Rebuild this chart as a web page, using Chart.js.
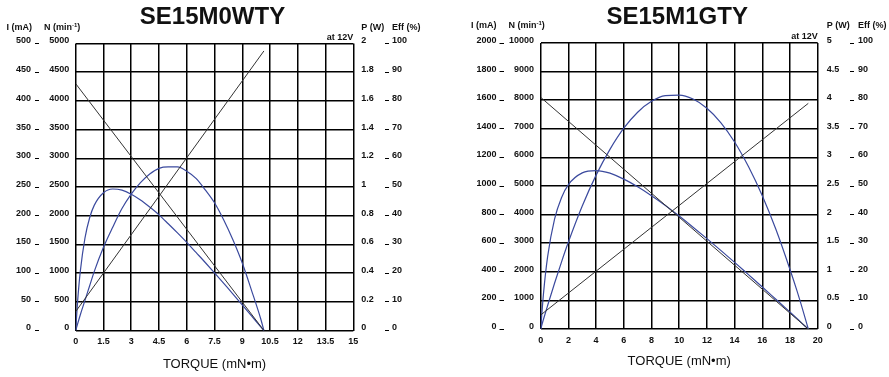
<!DOCTYPE html>
<html>
<head>
<meta charset="utf-8">
<script src="https://cdn.jsdelivr.net/npm/chart.js@4/dist/chart.umd.min.js"></script>
<style>
  body { margin: 0; background: #fff; }
  canvas { position: absolute; top: 0; }
  #chartA { left: 0; }
  #chartB { left: 445px; }
</style>
</head>
<body>
<canvas id="chartA" width="445" height="377"></canvas>
<canvas id="chartB" width="444" height="377"></canvas>
<script>
// ---- SE15M0WTY ----
const torqueA = [0, 0.1, 0.25, 0.5, 0.75, 1, 1.5, 2, 2.5, 3, 3.5, 4, 4.5, 5, 5.5, 6, 6.5, 7, 7.5, 8, 8.5, 9, 9.5, 10, 10.17];
const effA = [0, 9.9, 20.7, 32.2, 39.2, 43.6, 48.0, 49.3, 48.9, 47.5, 45.5, 43.0, 40.3, 37.2, 34.0, 30.7, 27.2, 23.7, 20.1, 16.4, 12.7, 8.9, 5.1, 1.3, 0];
const powerA = [0, 0.045, 0.11, 0.21, 0.31, 0.41, 0.58, 0.72, 0.85, 0.95, 1.03, 1.09, 1.13, 1.14, 1.14, 1.11, 1.06, 0.98, 0.89, 0.77, 0.63, 0.47, 0.28, 0.08, 0];
const lineTorqueA = [0, 10.17];
const speedA = [4300, 0];
const currentA = [33, 487];
const xTicksA = [0, 1.5, 3, 4.5, 6, 7.5, 9, 10.5, 12, 13.5, 15];
const iTicksA = [0, 50, 100, 150, 200, 250, 300, 350, 400, 450, 500];
const nTicksA = [0, 500, 1000, 1500, 2000, 2500, 3000, 3500, 4000, 4500, 5000];
const pTicksA = [0, 0.2, 0.4, 0.6, 0.8, 1, 1.2, 1.4, 1.6, 1.8, 2];

// ---- SE15M1GTY ----
const torqueB = [0, 0.2, 0.5, 1, 1.5, 2, 3, 4, 5, 6, 7, 8, 9, 10, 11, 12, 13, 14, 15, 16, 17, 18, 18.5, 19, 19.32];
const effB = [0, 12.3, 25.3, 38.4, 45.9, 50.5, 54.6, 55.4, 54.5, 52.4, 49.7, 46.6, 43.2, 39.5, 35.6, 31.6, 27.5, 23.3, 19.0, 14.7, 10.3, 5.9, 3.7, 1.4, 0];
const powerB = [0, 0.17, 0.41, 0.80, 1.17, 1.52, 2.15, 2.69, 3.14, 3.51, 3.79, 3.98, 4.08, 4.09, 4.02, 3.86, 3.61, 3.27, 2.84, 2.33, 1.73, 1.04, 0.67, 0.27, 0];
const lineTorqueB = [0, 19.32];
const speedB = [8100, 0];
const currentB = [98, 1578];
const xTicksB = [0, 2, 4, 6, 8, 10, 12, 14, 16, 18, 20];
const iTicksB = [0, 200, 400, 600, 800, 1000, 1200, 1400, 1600, 1800, 2000];
const nTicksB = [0, 1000, 2000, 3000, 4000, 5000, 6000, 7000, 8000, 9000, 10000];
const pTicksB = [0, 0.5, 1, 1.5, 2, 2.5, 3, 3.5, 4, 4.5, 5];

const effTicks = [0, 10, 20, 30, 40, 50, 60, 70, 80, 90, 100];

const BLUE = '#3b4a9e';
const LINE = '#333';
const FONT = '"Liberation Sans", Arial, sans-serif';

const pts = (xs, ys) => xs.map((x, i) => ({ x: x, y: ys[i] }));

function fixedTicks(list) {
  return s => { s.ticks = list.map(v => ({ value: v })); };
}

function yAxis(list, opts) {
  return {
    type: 'linear',
    position: opts.position,
    weight: opts.weight,
    min: list[0],
    max: list[list.length - 1],
    afterBuildTicks: fixedTicks(list),
    afterFit: s => { s.width = opts.width; },
    border: { display: false },
    grid: {
      drawOnChartArea: !!opts.grid,
      drawTicks: !!opts.tick,
      tickLength: opts.tick || 0,
      color: '#000',
      lineWidth: opts.grid ? 1.5 : 1
    },
    ticks: {
      padding: opts.pad,
      labelOffset: -2.5,
      color: '#111',
      font: { family: FONT, size: 9, weight: 'bold' },
      callback: v => String(v)
    }
  };
}

function labelsPlugin(p) {
  return {
    id: 'unitLabels',
    afterDraw(chart) {
      const c = chart.ctx, a = chart.chartArea, s = chart.scales;
      const mid = (a.left + a.right) / 2;
      c.save();
      c.fillStyle = '#111';
      c.textBaseline = 'middle';
      c.textAlign = 'center';
      c.font = 'bold 24px ' + FONT;
      c.fillText(p.title, mid - 2, p.headY);

      c.font = 'bold 9px ' + FONT;
      c.textAlign = 'right';
      c.fillText('I (mA)', s.i.right - 7, p.unitY);
      c.textAlign = 'left';
      let x = s.n.left + 5;
      c.fillText('N (min', x, p.unitY);
      x += c.measureText('N (min').width;
      c.font = 'bold 6px ' + FONT;
      c.fillText('-1', x, p.unitY - 2.5);
      x += c.measureText('-1').width;
      c.font = 'bold 9px ' + FONT;
      c.fillText(')', x, p.unitY);
      c.fillText('P (W)', s.p.left + p.pLab, p.unitY);
      c.fillText('Eff (%)', s.e.left + p.eLab, p.unitY);
      c.textAlign = 'right';
      c.fillText('at 12V', a.right, p.atY);

      c.font = '13px ' + FONT;
      c.textAlign = 'center';
      c.fillText('TORQUE (mN\u2022m)', mid, p.torqueY);
      c.restore();
    }
  };
}

function makeChart(id, d) {
  new Chart(document.getElementById(id), {
    type: 'line',
    data: {
      datasets: [
        { data: pts(d.lineTorque, d.speed), yAxisID: 'n', borderColor: LINE, borderWidth: 1 },
        { data: pts(d.lineTorque, d.current), yAxisID: 'i', borderColor: LINE, borderWidth: 1 },
        { data: pts(d.torque, d.eff), yAxisID: 'e', borderColor: BLUE, borderWidth: 1.2, cubicInterpolationMode: 'monotone' },
        { data: pts(d.torque, d.power), yAxisID: 'p', borderColor: BLUE, borderWidth: 1.2, cubicInterpolationMode: 'monotone' }
      ]
    },
    options: {
      responsive: false,
      animation: false,
      events: [],
      elements: { point: { radius: 0 } },
      layout: { padding: { left: 0, top: d.top, right: d.padRight, bottom: 0 } },
      plugins: { legend: { display: false }, tooltip: { enabled: false } },
      scales: {
        x: {
          type: 'linear',
          min: d.xTicks[0],
          max: d.xTicks[d.xTicks.length - 1],
          afterBuildTicks: fixedTicks(d.xTicks),
          afterFit: s => { s.height = d.xHeight; },
          border: { display: false },
          grid: { color: '#000', lineWidth: 1.5, drawTicks: false },
          ticks: {
            padding: 6,
            color: '#111',
            maxRotation: 0,
            font: { family: FONT, size: 9, weight: 'bold' },
            callback: v => String(v)
          }
        },
        i: yAxis(d.iTicks, { position: 'left', weight: 2, width: d.iW, tick: 4, pad: d.iPad }),
        n: yAxis(d.nTicks, { position: 'left', weight: 1, width: d.nW, grid: true, pad: d.nPad }),
        p: yAxis(d.pTicks, { position: 'right', weight: 1, width: d.pW, pad: d.pPad }),
        e: yAxis(effTicks, { position: 'right', weight: 2, width: d.eW, tick: 4, pad: d.ePad })
      }
    },
    plugins: [labelsPlugin(d)]
  });
}

makeChart('chartA', {
  title: 'SE15M0WTY',
  torque: torqueA, eff: effA, power: powerA,
  lineTorque: lineTorqueA, speed: speedA, current: currentA,
  xTicks: xTicksA, iTicks: iTicksA, nTicks: nTicksA, pTicks: pTicksA,
  top: 43.5, xHeight: 46.5, padRight: 25,
  iW: 39, nW: 36.7, pW: 31.7, eW: 35,
  iPad: 4, nPad: 6.5, pPad: 8, ePad: 3,
  pLab: 8, eLab: 7,
  headY: 17, unitY: 28, atY: 38, torqueY: 364
});

makeChart('chartB', {
  title: 'SE15M1GTY',
  torque: torqueB, eff: effB, power: powerB,
  lineTorque: lineTorqueB, speed: speedB, current: currentB,
  xTicks: xTicksB, iTicks: iTicksB, nTicks: nTicksB, pTicks: pTicksB,
  top: 43, xHeight: 48, padRight: 4,
  iW: 58.5, nW: 37.2, pW: 32.3, eW: 35,
  iPad: 3, nPad: 6.7, pPad: 9, ePad: 4,
  pLab: 9, eLab: 8,
  headY: 17, unitY: 25.5, atY: 37, torqueY: 361
});
</script>
</body>
</html>
